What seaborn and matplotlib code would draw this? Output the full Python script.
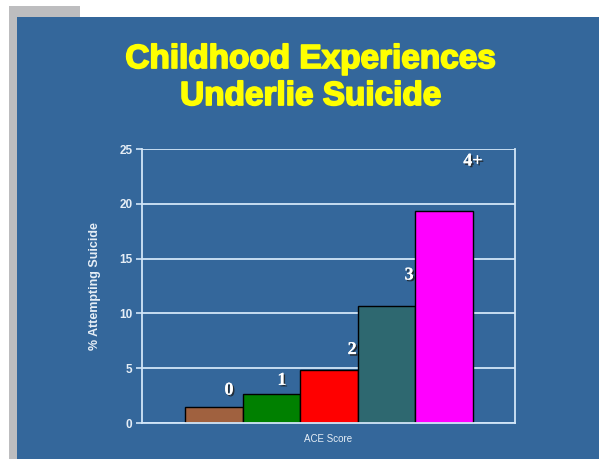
import matplotlib
matplotlib.use("Agg")
import matplotlib.pyplot as plt
import matplotlib.patheffects as pe
from matplotlib.patches import Rectangle
import seaborn as sns
import pandas as pd

# ---- data ----
categories = ["0", "1", "2", "3", "4+"]
values = [1.5, 2.65, 4.8, 10.7, 19.3]
bar_colors = ["#A0613F", "#008000", "#FF0000", "#2E6870", "#FF00FF"]
y_ticks = [0, 5, 10, 15, 20, 25]
title_text = "Childhood Experiences\nUnderlie Suicide"
y_label = "% Attempting Suicide"
x_label = "ACE Score"

# label offsets (dx, dy) relative to each bar's centre/top, styling only
label_offsets = [(0.26, 1.5), (0.18, 1.25), (0.40, 1.9), (0.39, 2.8), (0.50, 4.6)]

BLUE = "#34679B"
LIGHT = "#D2E6F8"
TXT = "#E6EEF6"

sns.set_style("white")
plt.rcParams["font.family"] = ["Liberation Sans", "DejaVu Sans"]

fig = plt.figure(figsize=(5.99, 4.59), dpi=100)
fig.patch.set_facecolor("white")
W, H = 599.0, 459.0
# gray frame pieces
fig.patches.append(Rectangle((9 / W, 0), 8 / W, (H - 6) / H, transform=fig.transFigure,
                             facecolor="#BDBDBF", edgecolor="none", zorder=-3))
fig.patches.append(Rectangle((9 / W, (H - 17) / H), 71 / W, 11 / H, transform=fig.transFigure,
                             facecolor="#BDBDBF", edgecolor="none", zorder=-3))
# blue slide
fig.patches.append(Rectangle((17 / W, 0), (W - 17) / W, (H - 17) / H, transform=fig.transFigure,
                             facecolor=BLUE, edgecolor="none", zorder=-2))

ax = fig.add_axes([142 / W, 36 / H, 373 / W, 274 / H])
ax.set_facecolor(BLUE)

df = pd.DataFrame({"ace": categories, "pct": values})
sns.barplot(data=df, x="ace", y="pct", hue="ace", palette=bar_colors, legend=False,
            width=1.0, edgecolor="black", linewidth=1.0, saturation=1.0, ax=ax, zorder=3)

ax.set_xlim(-1.25, 5.23)
ax.set_ylim(0, 25)
ax.set_yticks(y_ticks)
ax.set_yticklabels([str(t) for t in y_ticks], color=TXT, fontsize=8.5, fontweight="bold")
ax.set_xticks([])
ax.tick_params(axis="y", length=4, width=1.2, color=LIGHT, pad=3, left=True)
ax.grid(axis="y", color=LIGHT, linewidth=1.3, zorder=0)
ax.set_axisbelow(True)
for side in ["left", "right", "bottom"]:
    ax.spines[side].set_visible(True)
    ax.spines[side].set_color(LIGHT)
    ax.spines[side].set_linewidth(1.3)
ax.spines["top"].set_visible(False)
ax.spines["bottom"].set_zorder(4)

ax.set_ylabel(y_label, color=TXT, fontsize=9, fontweight="bold", labelpad=13)
ax.set_xlabel(x_label, color=TXT, fontsize=7, labelpad=8)

shadow = [pe.withSimplePatchShadow(offset=(1.2, -1.2), shadow_rgbFace="#202020", alpha=0.8), pe.Normal()]
for i, (lab, v) in enumerate(zip(categories, values)):
    dx, dy = label_offsets[i]
    ax.text(i + dx, v + dy, lab, ha="center", va="center", color="white",
            fontsize=13, fontweight="bold", family=["Liberation Serif", "DejaVu Serif"],
            path_effects=shadow, zorder=5)

fig.text(311 / W, 1 - 78 / H, title_text, ha="center", va="center", color="#FFFF00",
         fontsize=24, fontweight="bold", linespacing=1.25,
         path_effects=[pe.withStroke(linewidth=1.3, foreground="#FFFF00")])

fig.savefig("out.png", dpi=100)
